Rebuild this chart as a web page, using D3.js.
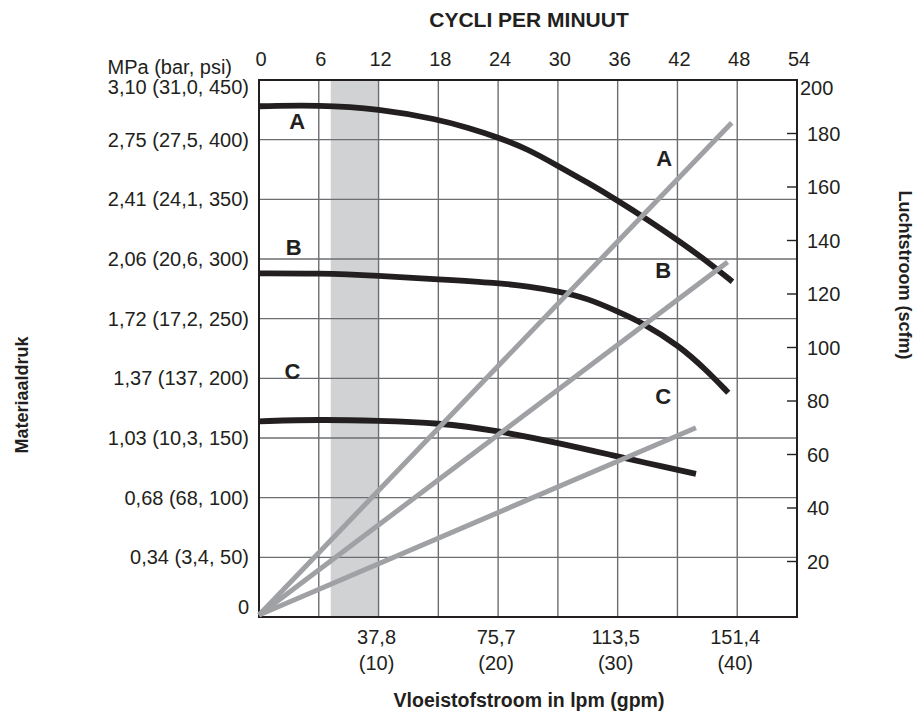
<!DOCTYPE html>
<html>
<head>
<meta charset="utf-8">
<script src="https://cdn.jsdelivr.net/npm/d3@7"></script>
<style>
  html, body { margin: 0; padding: 0; background: #fff; }
  svg { display: block; }
  text { font-family: "Liberation Sans", Arial, Helvetica, sans-serif; fill: #231f20; }
</style>
</head>
<body>
<svg id="chart" width="919" height="714"></svg>
<script>
// Flow in gpm (bottom axis domain), cycles per minute on top share the same range
const flowMaxGpm = 45;
const cycleTicks = [0, 6, 12, 18, 24, 30, 36, 42, 48, 54];
const flowTicksGpm = [10, 20, 30, 40];
const flowTickLabels = ["37,8", "75,7", "113,5", "151,4"];
const flowTickSubLabels = ["(10)", "(20)", "(30)", "(40)"];

// Left axis: fluid pressure (psi steps), labelled MPa (bar, psi)
const pressureTicksPsi = [0, 50, 100, 150, 200, 250, 300, 350, 400, 450];
const pressureTickLabels = ["0", "0,34 (3,4, 50)", "0,68 (68, 100)", "1,03 (10,3, 150)",
  "1,37 (137, 200)", "1,72 (17,2, 250)", "2,06 (20,6, 300)", "2,41 (24,1, 350)",
  "2,75 (27,5, 400)", "3,10 (31,0, 450)"];

// Right axis: air consumption in scfm
const airTicks = [20, 40, 60, 80, 100, 120, 140, 160, 180];
const airTickLabels = [20, 40, 60, 80, 100, 120, 140, 160, 180, 200];

// Recommended operating band (gpm)
const bandGpm = [6, 10];

// Fluid pressure curves (gpm, psi)
const pressureA = [[0, 428], [5, 429], [10, 426], [15, 417], [17.5, 410], [20, 402], [22.5, 392],
  [25, 378], [27.5, 364], [30, 349], [32.5, 333], [35, 316], [37.5, 298], [39.6, 281]];
const pressureB = [[0, 288], [5, 288], [10, 286], [15, 283], [20, 280], [22.5, 277], [25, 273],
  [27.5, 267], [30, 256], [32, 247], [35.2, 227], [37.4, 207], [39.25, 188]];
const pressureC = [[0, 164], [5, 165.5], [10, 164.5], [15, 162.8], [20, 156], [25, 146],
  [30, 134.5], [32, 130], [36.55, 120]];

// Air consumption lines (gpm, scfm)
const airA = [[0, 0], [39.54, 184]];
const airB = [[0, 0], [39.2, 132]];
const airC = [[0, 0], [36.55, 70]];

const svg = d3.select("#chart");
const plotL = 259, plotR = 797, plotT = 80, plotB = 617;

const x = d3.scaleLinear().domain([0, flowMaxGpm]).range([plotL, plotR]);
const xCycles = d3.scaleLinear().domain([0, 54]).range([plotL, plotR]);
const yP = d3.scaleLinear().domain([0, 450]).range([plotB, plotT]);
const yAir = d3.scaleLinear().domain([0, 200]).range([615, plotT]);

// shaded band
svg.append("rect")
  .attr("x", x(bandGpm[0])).attr("y", plotT)
  .attr("width", x(bandGpm[1]) - x(bandGpm[0])).attr("height", plotB - plotT)
  .attr("fill", "#d1d2d4");

// grid
const grid = svg.append("g").attr("stroke", "#6d6e71").attr("stroke-width", 1.4);
grid.selectAll("line.v").data(cycleTicks.slice(1, -1)).join("line").attr("class", "v")
  .attr("x1", d => xCycles(d)).attr("x2", d => xCycles(d))
  .attr("y1", plotT).attr("y2", plotB);
grid.selectAll("line.h").data(pressureTicksPsi.slice(1, -1)).join("line").attr("class", "h")
  .attr("x1", plotL).attr("x2", plotR)
  .attr("y1", d => yP(d)).attr("y2", d => yP(d));

// right axis inner ticks
svg.append("g").attr("stroke", "#231f20").attr("stroke-width", 1.4)
  .selectAll("line").data(airTicks).join("line")
  .attr("x1", plotR - 10).attr("x2", plotR)
  .attr("y1", d => yAir(d)).attr("y2", d => yAir(d));

// frame
svg.append("rect").attr("x", plotL).attr("y", plotT)
  .attr("width", plotR - plotL).attr("height", plotB - plotT)
  .attr("fill", "none").attr("stroke", "#231f20").attr("stroke-width", 2);

// pressure curves
const pLine = d3.line().x(d => x(d[0])).y(d => yP(d[1])).curve(d3.curveBasis);
svg.append("g").attr("fill", "none").attr("stroke", "#231f20").attr("stroke-width", 5.8)
  .selectAll("path").data([pressureA, pressureB, pressureC]).join("path")
  .attr("d", pLine);

// air lines
const aLine = d3.line().x(d => x(d[0])).y(d => yAir(d[1]));
svg.append("g").attr("fill", "none").attr("stroke", "#9fa1a4").attr("stroke-width", 5)
  .selectAll("path").data([airA, airB, airC]).join("path")
  .attr("d", aLine);

// top tick labels
svg.append("g").selectAll("text").data(cycleTicks).join("text")
  .attr("x", d => xCycles(d) + 2).attr("y", 66)
  .attr("text-anchor", "middle").attr("font-size", 20)
  .text(d => d);

// bottom tick labels
const bt = svg.append("g").attr("font-size", 20).attr("text-anchor", "middle");
bt.selectAll("text.a").data(flowTicksGpm).join("text").attr("class", "a")
  .attr("x", d => x(d) - 2).attr("y", 644).text((d, i) => flowTickLabels[i]);
bt.selectAll("text.b").data(flowTicksGpm).join("text").attr("class", "b")
  .attr("x", d => x(d) - 2).attr("y", 670).text((d, i) => flowTickSubLabels[i]);

// left tick labels
svg.append("g").attr("font-size", 20).attr("text-anchor", "end")
  .selectAll("text").data(pressureTicksPsi).join("text")
  .attr("x", 249)
  .attr("y", d => yP(d) + 7 + (d === 450 ? 7 : 0) + (d === 0 ? -10 : 0))
  .text((d, i) => pressureTickLabels[i]);
svg.append("text").attr("x", 232).attr("y", 74).attr("text-anchor", "end")
  .attr("font-size", 20).text("MPa (bar, psi)");

// right tick labels
svg.append("g").attr("font-size", 20)
  .selectAll("text").data(airTickLabels).join("text")
  .attr("x", d => d === 200 ? 800 : 807)
  .attr("y", d => yAir(d) + 7 + (d === 200 ? 8 : 0))
  .text(d => d);

// curve letters: left side at the pressure curves, right side beside the air lines
const bold = svg.append("g").attr("font-size", 22).attr("font-weight", "bold").attr("text-anchor", "middle");
bold.append("text").attr("x", x(3.2)).attr("y", yP(428) + 23).text("A");
bold.append("text").attr("x", x(2.9)).attr("y", yP(288) - 18).text("B");
bold.append("text").attr("x", x(2.8)).attr("y", yP(164) - 42).text("C");
bold.append("text").attr("x", x(33.9)).attr("y", yAir(168)).text("A");
bold.append("text").attr("x", x(33.8)).attr("y", yAir(126)).text("B");
bold.append("text").attr("x", x(33.8)).attr("y", yAir(79)).text("C");

// axis titles
const titles = svg.append("g").attr("font-weight", "bold").attr("text-anchor", "middle");
titles.append("text").attr("x", 529).attr("y", 27).attr("font-size", 21).text("CYCLI PER MINUUT");
titles.append("text").attr("x", 529).attr("y", 707).attr("font-size", 19.5).text("Vloeistofstroom in lpm (gpm)");
titles.append("text").attr("transform", "translate(28,395) rotate(-90)").attr("font-size", 18).text("Materiaaldruk");
titles.append("text").attr("transform", "translate(899,275) rotate(90)").attr("font-size", 18).text("Luchtstroom (scfm)");
</script>
</body>
</html>
